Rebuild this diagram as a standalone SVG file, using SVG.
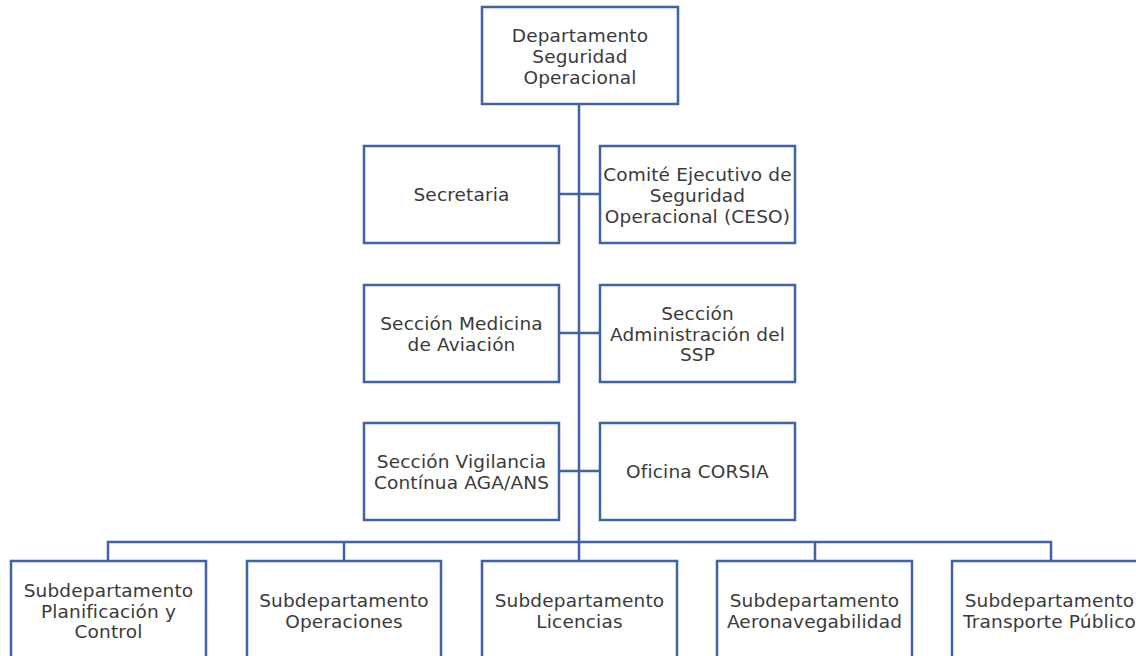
<svg xmlns="http://www.w3.org/2000/svg" width="1136" height="656" viewBox="0 0 1136 656">
<style>
.box{fill:#ffffff;stroke:#3f62a8;stroke-width:2.5}
.ln{fill:none;stroke:#3f62a8;stroke-width:2.5}
text{font-family:"DejaVu Sans","Liberation Sans",sans-serif;font-size:18.5px;letter-spacing:0.15px;fill:#3a3a3a;text-anchor:middle}
</style>
<rect width="1136" height="656" fill="#ffffff"/>
<g id="connectors">
<path class="ln" d="M579 104V542"/>
<path class="ln" d="M559 194H600M559 333H600M559 471H600"/>
<path class="ln" d="M108 561V542H1051V561M344 542V561M579 542V561M815 542V561"/>
</g>
<g id="n-dso"><rect class="box" x="482" y="7" width="196" height="97"/><text x="580" y="42">Departamento</text><text x="580" y="63">Seguridad</text><text x="580" y="84">Operacional</text></g>
<g id="n-secretaria"><rect class="box" x="364" y="146" width="195" height="97"/><text x="461.5" y="201">Secretaria</text></g>
<g id="n-ceso"><rect class="box" x="600" y="146" width="195" height="97"/><text x="697.5" y="181">Comité Ejecutivo de</text><text x="697.5" y="202">Seguridad</text><text x="697.5" y="223">Operacional (CESO)</text></g>
<g id="n-medicina"><rect class="box" x="364" y="285" width="195" height="97"/><text x="461.5" y="330">Sección Medicina</text><text x="461.5" y="351">de Aviación</text></g>
<g id="n-ssp"><rect class="box" x="600" y="285" width="195" height="97"/><text x="697.5" y="320">Sección</text><text x="697.5" y="341">Administración del</text><text x="697.5" y="361">SSP</text></g>
<g id="n-vigilancia"><rect class="box" x="364" y="423" width="195" height="97"/><text x="461.5" y="468">Sección Vigilancia</text><text x="461.5" y="489">Contínua AGA/ANS</text></g>
<g id="n-corsia"><rect class="box" x="600" y="423" width="195" height="97"/><text x="697.5" y="478">Oficina CORSIA</text></g>
<g id="n-planificacion"><rect class="box" x="11" y="561" width="195" height="110"/><text x="108.5" y="597">Subdepartamento</text><text x="108.5" y="618">Planificación y</text><text x="108.5" y="638">Control</text></g>
<g id="n-operaciones"><rect class="box" x="247" y="561" width="194" height="110"/><text x="344" y="607">Subdepartamento</text><text x="344" y="628">Operaciones</text></g>
<g id="n-licencias"><rect class="box" x="482" y="561" width="195" height="110"/><text x="579.5" y="607">Subdepartamento</text><text x="579.5" y="628">Licencias</text></g>
<g id="n-aeronavegabilidad"><rect class="box" x="717" y="561" width="195" height="110"/><text x="814.5" y="607">Subdepartamento</text><text x="814.5" y="628">Aeronavegabilidad</text></g>
<g id="n-transporte"><rect class="box" x="952" y="561" width="195" height="110"/><text x="1049.5" y="607">Subdepartamento</text><text x="1049.5" y="628">Transporte Público</text></g>
</svg>
